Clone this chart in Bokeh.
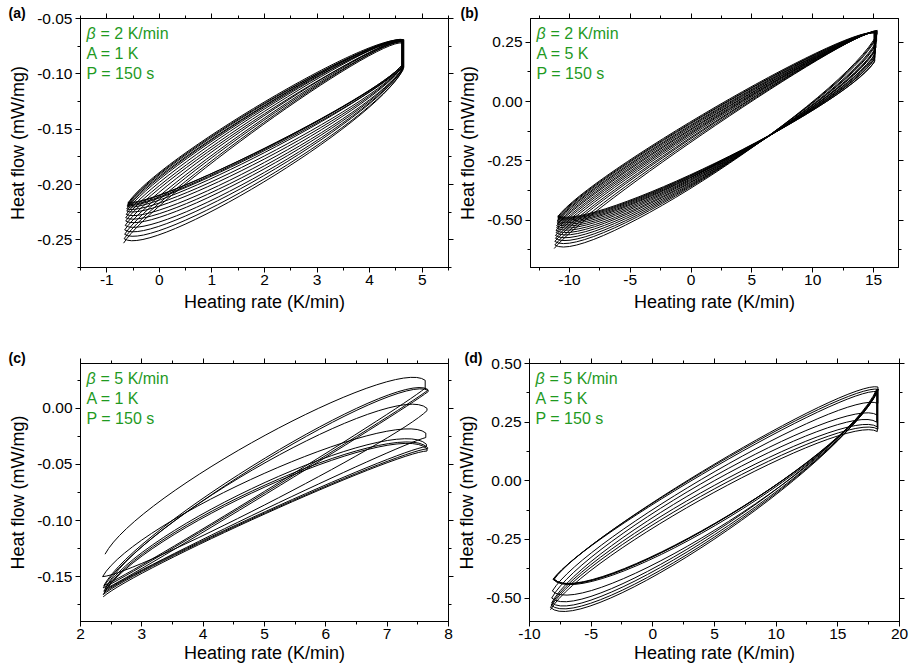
import numpy as np
from bokeh.plotting import figure
from bokeh.layouts import column, row
from bokeh.models import LinearAxis, SingleIntervalTicker, Range1d, Label, PrintfTickFormatter
from bokeh.embed import file_html
from bokeh.resources import INLINE

FONT = "Liberation Sans"
GREEN = "#1f9a1f"

# ---------------- data ----------------
# Each cycle: an "up" branch (left -> right) and a "down" branch (right -> left).
# *_MID is the heat flow of the branch at the middle of the heating-rate span.

# Panel (a): beta = 2 K/min, A = 1 K
A_XL = [-0.68, -0.67, -0.66, -0.66, -0.65, -0.64, -0.64, -0.63, -0.62, -0.62, -0.61, -0.61, -0.60, -0.60]
A_XR = [4.62, 4.64, 4.63, 4.65, 4.62, 4.64, 4.63, 4.61, 4.63, 4.62, 4.64, 4.62, 4.63, 4.62]
A_UP_Y0 = [-0.253, -0.249, -0.245, -0.241, -0.237, -0.233, -0.230, -0.227, -0.224, -0.222, -0.220, -0.219, -0.218, -0.217]
A_UP_Y1 = [-0.072, -0.070, -0.071, -0.069, -0.070, -0.071, -0.069, -0.070, -0.071, -0.070, -0.069, -0.070, -0.071, -0.070]
A_UP_MID = [-0.146, -0.144, -0.142, -0.140, -0.138, -0.136, -0.134, -0.132, -0.130, -0.129, -0.128, -0.127, -0.126, -0.125]
A_DN_Y0 = [-0.097, -0.096, -0.095, -0.094, -0.095, -0.094, -0.093, -0.094, -0.093, -0.092, -0.093, -0.092, -0.093, -0.092]
A_DN_Y1 = [-0.249, -0.245, -0.241, -0.237, -0.233, -0.230, -0.227, -0.224, -0.222, -0.220, -0.219, -0.218, -0.217, -0.216]
A_DN_MID = [-0.198, -0.195, -0.192, -0.189, -0.186, -0.183, -0.180, -0.177, -0.174, -0.171, -0.169, -0.168, -0.167, -0.167]

# Panel (b): beta = 2 K/min, A = 5 K
B_XL = [-11.25, -11.2, -11.2, -11.15, -11.15, -11.1, -11.1, -11.05, -11.05, -11.0, -11.0, -11.0, -10.95, -10.95, -10.95, -10.95]
B_XR = [15.3, 15.25, 15.2, 15.25, 15.2, 15.15, 15.2, 15.15, 15.1, 15.15, 15.1, 15.1, 15.1, 15.05, 15.1, 15.05]
B_UP_Y0 = [-0.620, -0.605, -0.590, -0.577, -0.565, -0.553, -0.543, -0.533, -0.524, -0.516, -0.509, -0.503, -0.497, -0.492, -0.488, -0.485]
B_UP_Y1 = [0.300, 0.298, 0.297, 0.296, 0.295, 0.295, 0.294, 0.293, 0.293, 0.292, 0.292, 0.291, 0.291, 0.290, 0.290, 0.290]
B_UP_MID = [-0.100, -0.094, -0.088, -0.082, -0.076, -0.070, -0.065, -0.060, -0.055, -0.050, -0.045, -0.040, -0.035, -0.030, -0.026, -0.022]
B_DN_Y0 = [0.285, 0.275, 0.265, 0.255, 0.245, 0.236, 0.228, 0.220, 0.212, 0.204, 0.197, 0.190, 0.183, 0.177, 0.170, 0.165]
B_DN_Y1 = [-0.605, -0.590, -0.577, -0.565, -0.553, -0.543, -0.533, -0.524, -0.516, -0.509, -0.503, -0.497, -0.492, -0.488, -0.485, -0.482]
B_DN_MID = [-0.298, -0.295, -0.292, -0.289, -0.286, -0.283, -0.280, -0.277, -0.274, -0.271, -0.268, -0.266, -0.264, -0.262, -0.260, -0.258]

# Panel (c): beta = 5 K/min, A = 1 K
C_XL = [2.40, 2.38, 2.37, 2.40, 2.36, 2.38, 2.39, 2.37]
C_XR = [7.62, 7.66, 7.67, 7.65, 7.63, 7.64, 7.66, 7.65]
C_UP_Y0 = [-0.130, -0.158, -0.160, -0.161, -0.150, -0.163, -0.164, -0.166]
C_UP_Y1 = [0.025, 0.017, 0.016, 0.000, -0.022, -0.032, -0.035, -0.036]
C_UP_MID = [-0.024, -0.044, -0.046, -0.048, -0.058, -0.066, -0.068, -0.070]
C_DN_Y0 = [0.018, 0.016, 0.015, -0.002, -0.026, -0.034, -0.036, -0.038]
C_DN_Y1 = [-0.158, -0.160, -0.161, -0.150, -0.163, -0.164, -0.166, -0.168]
C_DN_MID = [-0.074, -0.075, -0.076, -0.086, -0.090, -0.092, -0.093, -0.094]

# Panel (d): beta = 5 K/min, A = 5 K
D_XL = [-8.3, -8.3, -8.25, -8.2, -8.2, -8.15, -8.1, -8.05, -8.0]
D_XR = [18.2, 18.25, 18.2, 18.15, 18.2, 18.25, 18.2, 18.3, 18.25]
D_UP_Y0 = [-0.55, -0.54, -0.53, -0.52, -0.50, -0.47, -0.42, -0.42, -0.42]
D_UP_Y1 = [0.21, 0.22, 0.23, 0.25, 0.28, 0.33, 0.38, 0.39, 0.40]
D_UP_MID = [-0.05, -0.035, -0.02, 0.0, 0.02, 0.04, 0.06, 0.07, 0.075]
D_DN_Y0 = [0.39, 0.39, 0.38, 0.39, 0.38, 0.39, 0.38, 0.39, 0.39]
D_DN_Y1 = [-0.54, -0.53, -0.52, -0.50, -0.47, -0.42, -0.42, -0.42, -0.42]
D_DN_MID = [-0.25, -0.24, -0.23, -0.22, -0.21, -0.19, -0.18, -0.18, -0.18]

PANELS = [
    dict(tag="(a)", beta="2", amp="1", xr=(-1.5, 5.5), yr=(-0.275, -0.0499), xi=1, yi=0.05,
         data=(A_XL, A_XR, A_UP_Y0, A_UP_Y1, A_UP_MID, A_DN_Y0, A_DN_Y1, A_DN_MID),
         w=454, h=330, bl=80, br=6, bt=17, bb=63, tagx=-72),
    dict(tag="(b)", beta="2", amp="5", xr=(-13.2, 17.05), yr=(-0.70, 0.35), xi=5, yi=0.25,
         data=(B_XL, B_XR, B_UP_Y0, B_UP_Y1, B_UP_MID, B_DN_Y0, B_DN_Y1, B_DN_MID),
         w=455, h=330, bl=76, br=11, bt=18, bb=62, tagx=-70),
    dict(tag="(c)", beta="5", amp="1", xr=(2, 8.0001), yr=(-0.19, 0.04), xi=1, yi=0.05,
         data=(C_XL, C_XR, C_UP_Y0, C_UP_Y1, C_UP_MID, C_DN_Y0, C_DN_Y1, C_DN_MID),
         w=454, h=337, bl=80, br=6, bt=33, bb=45, tagx=-72),
    dict(tag="(d)", beta="5", amp="5", xr=(-10, 20.0001), yr=(-0.60, 0.5001), xi=5, yi=0.25,
         data=(D_XL, D_XR, D_UP_Y0, D_UP_Y1, D_UP_MID, D_DN_Y0, D_DN_Y1, D_DN_MID),
         w=455, h=337, bl=74, br=10, bt=29, bb=46, tagx=-65),
]

SHARP = 0.1


def branch(x0, y0, x1, y1, ym):
    x0, y0, x1, y1, ym = map(np.asarray, (x0, y0, x1, y1, ym))
    h = (ym - (y0 + y1) / 2.0) * 4.0 / 3.0
    cx0 = x0 + SHARP * (x1 - x0)
    cy0 = y0 + SHARP * (y1 - y0) + h
    cx1 = x1 - SHARP * (x1 - x0)
    cy1 = y1 - SHARP * (y1 - y0) + h
    return dict(x0=x0, y0=y0, x1=x1, y1=y1, cx0=cx0, cy0=cy0, cx1=cx1, cy1=cy1)


def style_axis(ax, labels=True):
    ax.axis_line_color = "black"
    ax.axis_line_width = 1
    ax.major_tick_in = 0
    ax.major_tick_out = 5
    ax.minor_tick_in = 0
    ax.minor_tick_out = 3
    ax.major_tick_line_color = "black"
    ax.minor_tick_line_color = "black"
    ax.major_label_text_font = FONT
    if labels:
        ax.major_label_text_font_size = "15.5px"
        ax.major_label_text_color = "black"
    else:
        ax.major_label_text_font_size = "0px"
        ax.major_label_text_color = None
    ax.axis_label_text_font = FONT
    ax.axis_label_text_font_size = "18px"
    ax.axis_label_text_font_style = "normal"
    ax.axis_label_text_color = "black"


def make_panel(cfg):
    p = figure(width=cfg["w"], height=cfg["h"], output_backend="svg", toolbar_location=None,
               x_range=Range1d(*cfg["xr"]), y_range=Range1d(*cfg["yr"]),
               min_border_left=cfg["bl"], min_border_right=cfg["br"],
               min_border_top=cfg["bt"], min_border_bottom=cfg["bb"])
    p.xgrid.visible = False
    p.ygrid.visible = False
    p.outline_line_color = "black"
    p.outline_line_width = 1
    p.background_fill_color = "white"
    p.border_fill_color = "white"

    # panel tag "(a)" etc. as the figure title, pulled down beside the frame top
    p.title.text = cfg["tag"]
    p.title.align = "left"
    p.title.offset = cfg["tagx"]
    p.title.standoff = -18
    p.title.vertical_align = "top"
    p.title.text_font = FONT
    p.title.text_font_size = "14px"
    p.title.text_font_style = "bold"
    p.title.text_color = "black"

    p.xaxis.ticker = SingleIntervalTicker(interval=cfg["xi"], num_minor_ticks=2)
    p.yaxis.ticker = SingleIntervalTicker(interval=cfg["yi"], num_minor_ticks=2)
    p.xaxis.formatter = PrintfTickFormatter(format="%d")
    p.yaxis.formatter = PrintfTickFormatter(format="%.2f")
    p.xaxis.axis_label = "Heating rate (K/min)"
    p.yaxis.axis_label = "Heat flow (mW/mg)"
    for ax in p.xaxis:
        style_axis(ax)
        ax.major_label_standoff = 2
        ax.axis_label_standoff = 4 if cfg["h"] == 330 else 1
    for ax in p.yaxis:
        style_axis(ax)
        ax.major_label_standoff = 3
        ax.axis_label_standoff = 6

    top = LinearAxis(ticker=SingleIntervalTicker(interval=cfg["xi"], num_minor_ticks=2))
    right = LinearAxis(ticker=SingleIntervalTicker(interval=cfg["yi"], num_minor_ticks=2))
    style_axis(top, labels=False)
    style_axis(right, labels=False)
    top.major_label_standoff = 0
    right.major_label_standoff = 0
    p.add_layout(top, "above")
    p.add_layout(right, "right")

    xl, xr, u0, u1, um, d0, d1, dm = [np.asarray(v, dtype=float) for v in cfg["data"]]
    xl_next = np.append(xl[1:], xl[-1])
    up = branch(xl, u0, xr, u1, um)
    dn = branch(xr, d0, xl_next, d1, dm)
    p.bezier(line_color="black", line_width=1, **up)
    p.bezier(line_color="black", line_width=1, **dn)
    # turn at the right end of each cycle
    p.segment(x0=xr, y0=u1, x1=xr, y1=d0, line_color="black", line_width=1)
    # turn at the left end (down end of cycle k -> up start of cycle k+1)
    p.segment(x0=xl[1:], y0=d1[:-1], x1=xl[1:], y1=u0[1:], line_color="black", line_width=1)

    x0, y1 = cfg["xr"][0], cfg["yr"][1]
    common = dict(x=x0, y=y1, text_font=FONT, text_font_size="16px", text_color=GREEN,
                  text_baseline="top", text_align="left")
    p.add_layout(Label(text="β", x_offset=6, y_offset=-6, text_font_style="italic", **common))
    p.add_layout(Label(text="= %s K/min" % cfg["beta"], x_offset=20, y_offset=-6, **common))
    p.add_layout(Label(text="A = %s K" % cfg["amp"], x_offset=6, y_offset=-26, **common))
    p.add_layout(Label(text="P = 150 s", x_offset=6, y_offset=-46, **common))
    return p


figs = [make_panel(c) for c in PANELS]
layout = column(row(figs[0], figs[1]), row(figs[2], figs[3]))

open("out.html", "w").write(file_html(layout, INLINE))
